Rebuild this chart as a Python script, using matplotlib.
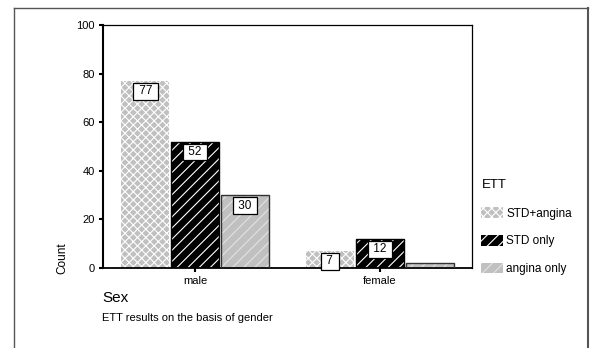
import matplotlib.pyplot as plt
from matplotlib.patches import Patch
from matplotlib.lines import Line2D

plt.rcParams['font.family'] = ['Liberation Sans', 'DejaVu Sans']
plt.rcParams['hatch.linewidth'] = 0.8

groups = ['male', 'female']
series = ['STD+angina', 'STD only', 'angina only']
counts = {
    'STD+angina': [77, 7],
    'STD only': [52, 12],
    'angina only': [30, 2],
}
shown = {
    'STD+angina': [True, True],
    'STD only': [True, True],
    'angina only': [True, False],
}

# fill, hatch, hatch colour, outline
styles = {
    'STD+angina': ('#c0c0c0', 'xxxx', 'white', 'none'),
    'STD only': ('black', '///', 'white', 'black'),
    'angina only': ('#c0c0c0', '///', '#e2e2e2', '#333333'),
}

fig = plt.figure(figsize=(5.9, 3.48), dpi=100)
ax = fig.add_axes([0.1746, 0.2299, 0.8 - 0.1746, 0.928 - 0.2299])

width = 0.26
offsets = [-0.27, 0.0, 0.27]
x = range(len(groups))
for s, off in zip(series, offsets):
    fc, hatch, hc, ec = styles[s]
    pos = [i + off for i in x]
    ax.bar(pos, counts[s], width, color=fc, hatch=hatch, edgecolor=hc,
           linewidth=0, zorder=2)
    if ec != 'none':
        ax.bar(pos, counts[s], width, fill=False, edgecolor=ec,
               linewidth=1.0, zorder=3)
    for p, v, lab in zip(pos, counts[s], shown[s]):
        if lab:
            ax.annotate(f' {v} ', (p, v), xytext=(0, -7.5), textcoords='offset points',
                        ha='center', va='center', fontsize=8.5, zorder=5,
                        bbox=dict(boxstyle='square,pad=0.2', fc='white',
                                  ec='black', lw=0.9))

ax.set_xlim(-0.5, 1.5)
ax.set_ylim(0, 100)
ax.set_yticks([0, 20, 40, 60, 80, 100])
ax.set_xticks(list(x))
ax.set_xticklabels(groups, fontsize=8)
ax.tick_params(axis='y', labelsize=8, length=3, width=1.5, direction='out', pad=3)
ax.tick_params(axis='x', length=3, width=1.5, direction='out', pad=3)
for sp in ax.spines.values():
    sp.set_linewidth(0.9)
ax.spines['left'].set_linewidth(1.5)
ax.spines['bottom'].set_linewidth(1.3)
ax.set_ylabel('Count', fontsize=8.5)
ax.yaxis.set_label_coords(-0.093, 0.04)

# legend
handles = [Patch(facecolor=styles[s][0], hatch=styles[s][1], edgecolor=styles[s][2],
                 linewidth=0) for s in series]
leg = fig.legend(handles, series, title='ETT', loc='upper left',
                 bbox_to_anchor=(0.808, 0.5), frameon=False, fontsize=8.5,
                 title_fontsize=9.5, handlelength=1.8, handleheight=1.0,
                 labelspacing=1.3, handletextpad=0.3, borderaxespad=0)
leg._legend_box.align = 'left'
leg._legend_box.sep = 12

fig.text(0.173, 0.143, 'Sex', fontsize=11, va='center')
fig.text(0.173, 0.087, 'ETT results on the basis of gender', fontsize=8, va='center')

# outer frame
fr = '#555555'
fig.add_artist(Line2D([14 / 590, 14 / 590], [0, 1 - 8 / 348], color=fr, lw=1.0))
fig.add_artist(Line2D([14 / 590, 588 / 590], [1 - 8 / 348, 1 - 8 / 348], color=fr, lw=1.0))
fig.add_artist(Line2D([588 / 590, 588 / 590], [0, 1 - 8 / 348], color=fr, lw=1.5))

fig.savefig('out.png', dpi=100)
